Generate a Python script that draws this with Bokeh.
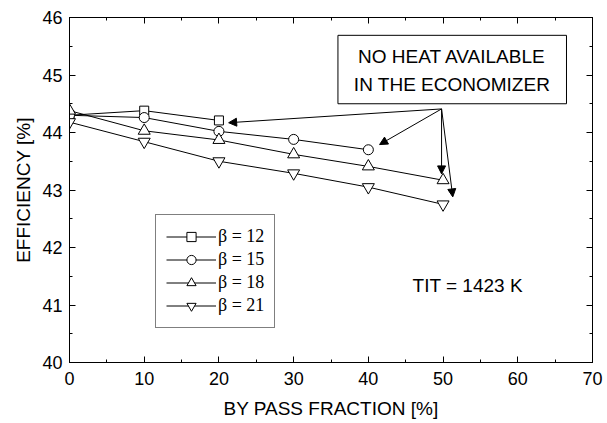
from bokeh.plotting import figure
from bokeh.models import (Range1d, LinearAxis, SingleIntervalTicker, Legend, LegendItem,
                          Arrow, NormalHead, BoxAnnotation, Label, CustomLabelingPolicy)
from bokeh.embed import file_html
from bokeh.resources import INLINE

# ---- data ----
bypass_b12 = [0, 10, 20]
eff_b12 = [44.30, 44.38, 44.21]
bypass_b15 = [0, 10, 20, 30, 40]
eff_b15 = [44.30, 44.26, 44.02, 43.88, 43.70]
bypass_b18 = [0, 10, 20, 30, 40, 50]
eff_b18 = [44.38, 44.03, 43.87, 43.62, 43.41, 43.17]
bypass_b21 = [0, 10, 20, 30, 40, 50]
eff_b21 = [44.18, 43.84, 43.50, 43.29, 43.05, 42.75]
series_labels = ["β = 12", "β = 15", "β = 18", "β = 21"]

FONT = "Liberation Sans"

p = figure(width=607, height=423, output_backend="svg", toolbar_location=None,
           x_range=Range1d(0, 70), y_range=Range1d(40, 46),
           min_border_left=69, min_border_right=14, min_border_top=17, min_border_bottom=61,
           x_axis_label="BY PASS FRACTION [%]", y_axis_label="EFFICIENCY [%]")
p.grid.visible = False
p.outline_line_color = "black"
p.outline_line_width = 1

p.xaxis.ticker = SingleIntervalTicker(interval=10, num_minor_ticks=2)
p.yaxis.ticker = SingleIntervalTicker(interval=1, num_minor_ticks=2)
for ax in (p.xaxis[0], p.yaxis[0]):
    ax.major_tick_in = 6
    ax.major_tick_out = 0
    ax.minor_tick_in = 3
    ax.minor_tick_out = 0
    ax.axis_line_color = "black"
    ax.major_tick_line_color = "black"
    ax.minor_tick_line_color = "black"
    ax.major_label_text_font = FONT
    ax.major_label_text_font_size = "18px"
    ax.major_label_text_color = "black"
    ax.axis_label_text_font = FONT
    ax.axis_label_text_font_size = "19px"
    ax.axis_label_text_font_style = "normal"
    ax.axis_label_text_color = "black"
p.xaxis.major_label_standoff = 9
p.yaxis.major_label_standoff = 7
p.xaxis.axis_label_standoff = 10
p.yaxis.axis_label_standoff = 5

# mirrored axes (ticks only, no labels)
top = LinearAxis(ticker=SingleIntervalTicker(interval=10, num_minor_ticks=2),
                 major_label_policy=CustomLabelingPolicy(code="return []"))
right = LinearAxis(ticker=SingleIntervalTicker(interval=1, num_minor_ticks=2),
                   major_label_policy=CustomLabelingPolicy(code="return []"))
for ax in (top, right):
    ax.major_tick_in = 6
    ax.major_tick_out = 0
    ax.minor_tick_in = 3
    ax.minor_tick_out = 0
    ax.major_label_standoff = 0
    ax.axis_line_color = "black"
p.add_layout(top, "above")
p.add_layout(right, "right")

# ---- series ----
series = [
    (bypass_b12, eff_b12, "square", 9),
    (bypass_b15, eff_b15, "circle", 10),
    (bypass_b18, eff_b18, "triangle", 12),
    (bypass_b21, eff_b21, "inverted_triangle", 12),
]
items = []
for (xs, ys, mk, sz), lab in zip(series, series_labels):
    lr = p.line(xs, ys, line_color="black", line_width=1)
    sr = p.scatter(xs, ys, marker=mk, size=sz, fill_color="white",
                   line_color="black", line_width=1)
    items.append(LegendItem(label=lab, renderers=[lr, sr]))

legend = Legend(items=items, location=(86, 34), glyph_width=50, glyph_height=23,
                label_height=23, spacing=0, padding=10, label_standoff=2,
                label_text_font="Liberation Serif", label_text_font_size="18px",
                label_text_color="black", border_line_color="black",
                border_line_width=1, background_fill_color="white",
                background_fill_alpha=1, margin=0)
p.add_layout(legend, "center")

# ---- annotation box and arrows ----
box = BoxAnnotation(left=35.93, right=66.52, bottom=44.50, top=45.69,
                    fill_alpha=0, line_color="black", line_width=1, line_alpha=1)
p.add_layout(box)
p.add_layout(Label(x=51.2, y=45.33, text="NO HEAT AVAILABLE", text_align="center",
                   text_baseline="middle", text_font=FONT, text_font_size="19px",
                   text_color="black"))
p.add_layout(Label(x=51.2, y=44.84, text="IN THE ECONOMIZER", text_align="center",
                   text_baseline="middle", text_font=FONT, text_font_size="19px",
                   text_color="black"))

arrow_origin = (49.8, 44.41)
arrow_targets = [(21.3, 44.17), (41.5, 43.79), (49.8, 43.28), (51.3, 42.88)]
for tx, ty in arrow_targets:
    p.add_layout(Arrow(end=NormalHead(size=8, fill_color="black", line_color="black",
                                      line_width=1),
                       x_start=arrow_origin[0], y_start=arrow_origin[1],
                       x_end=tx, y_end=ty, line_color="black", line_width=1))

p.add_layout(Label(x=53.3, y=41.34, text="TIT = 1423 K", text_align="center",
                   text_baseline="middle", text_font=FONT, text_font_size="19px",
                   text_color="black"))

open("out.html", "w").write(file_html(p, INLINE))
